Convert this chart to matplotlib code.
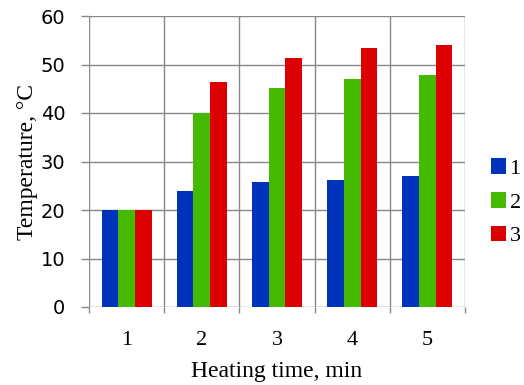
import matplotlib
matplotlib.use("Agg")
import matplotlib.pyplot as plt
import numpy as np

categories = ["1", "2", "3", "4", "5"]
series_names = ["1", "2", "3"]
s1 = [20, 24, 25.7, 26.2, 27]
s2 = [20, 40, 45.1, 47, 47.8]
s3 = [20, 46.4, 51.4, 53.3, 54]
colors = ["#0033BB", "#44BB00", "#DD0000"]
yticks = [0, 10, 20, 30, 40, 50, 60]

fig = plt.figure(figsize=(5.24, 3.85), dpi=100)
ax = fig.add_axes([89/524, 1-307/385, (465-89)/524, (307-16)/385])

x = np.arange(1, len(categories) + 1)
w = 0.222
for i, (vals, c, name) in enumerate(zip([s1, s2, s3], colors, series_names)):
    ax.bar(x + (i - 1) * w, vals, width=w, color=c, label=name, zorder=3)

ax.set_xlim(0.5, 5.5)
ax.set_ylim(0, 60)
ax.set_yticks(yticks)
ax.set_xticks(x)
ax.set_xticklabels(categories, family="Liberation Serif", fontsize=16)
ax.set_xticks(np.arange(0.5, 6.0, 1.0), minor=True)
ax.tick_params(axis="x", which="major", length=0, pad=17)
ax.tick_params(axis="x", which="minor", length=4.5, color="#888888", width=1)
ax.tick_params(axis="y", length=6, color="#888888", width=1, pad=11, labelsize=14)
for lbl in ax.get_yticklabels():
    lbl.set_family("DejaVu Sans")

ax.grid(True, which="major", axis="y", color="#888888", linewidth=1, zorder=0)
ax.grid(True, which="minor", axis="x", color="#888888", linewidth=1, zorder=0)
for s in ax.spines.values():
    s.set_visible(False)

ax.set_xlabel("Heating time, min", family="Liberation Serif", fontsize=17, labelpad=8)
ax.set_ylabel("Temperature, °C", family="Liberation Serif", fontsize=17, labelpad=2)

leg = ax.legend(loc="center left", bbox_to_anchor=(1.027, 0.36), frameon=False,
                prop={"family": "Liberation Serif", "size": 16},
                handlelength=0.7, handleheight=0.7, handletextpad=0.15, labelspacing=0.6,
                borderaxespad=0.3)

fig.savefig("out.png", dpi=100)
